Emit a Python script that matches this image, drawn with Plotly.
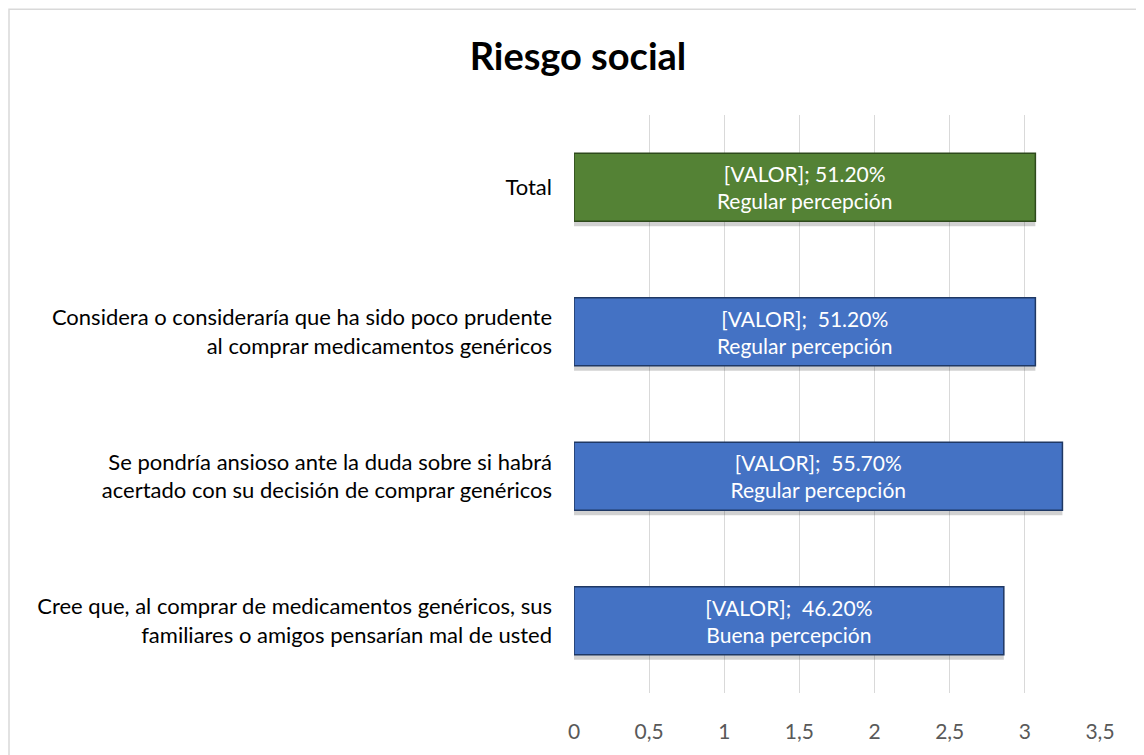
import plotly.graph_objects as go

categories = [
    "Cree que, al comprar de medicamentos genéricos, sus<br>familiares o amigos pensarían mal de usted",
    "Se pondría ansioso ante la duda sobre si habrá<br>acertado con su decisión de comprar genéricos",
    "Considera o consideraría que ha sido poco prudente<br>al comprar medicamentos genéricos",
    "Total",
]
values = [2.86, 3.25, 3.07, 3.07]
percents = ["46.20%", "55.70%", "51.20%", "51.20%"]
perceptions = ["Buena percepción", "Regular percepción", "Regular percepción", "Regular percepción"]
separators = [";  ", ";  ", ";  ", "; "]
bar_colors = ["#4472C4", "#4472C4", "#4472C4", "#548235"]
edge_colors = ["#1F3864", "#1F3864", "#1F3864", "#2E4A1C"]
x_ticks = [0, 0.5, 1, 1.5, 2, 2.5, 3, 3.5]
x_tick_labels = ["0", "0,5", "1", "1,5", "2", "2,5", "3", "3,5"]

labels = [f"[VALOR]{s}{p}<br>{q}" for s, p, q in zip(separators, percents, perceptions)]

FONT = "Lato"
BAR_W = 0.47

fig = go.Figure()
# soft drop shadow
fig.add_trace(go.Bar(
    y=categories, x=values, orientation="h", width=BAR_W,
    offset=-BAR_W / 2 - 0.035,
    marker=dict(color="rgba(0,0,0,0.18)", line=dict(width=0)),
    hoverinfo="skip",
))
fig.add_trace(go.Bar(
    y=categories,
    x=values,
    orientation="h",
    width=BAR_W,
    offset=-BAR_W / 2,
    marker=dict(color=bar_colors, line=dict(color=edge_colors, width=1.5)),
    text=labels,
    textposition="inside",
    insidetextanchor="middle",
    textangle=0,
    constraintext="none",
    textfont=dict(family=FONT, size=21, color="white"),
    hoverinfo="skip",
))

W, H = 1136, 747
L, R, T, B = 566, 44, 107, 60
pw, ph = W - L - R, H - T - B

fig.update_layout(
    width=W, height=H,
    margin=dict(l=L, r=R, t=T, b=B),
    paper_bgcolor="white",
    plot_bgcolor="white",
    showlegend=False,
    barmode="overlay",
    title=dict(text="<b>Riesgo social</b>", x=570 / W, xanchor="center",
               y=1 - 49 / H, yanchor="middle",
               font=dict(family=FONT, size=38, color="black")),
    xaxis=dict(range=[0, 3.5], tickvals=x_ticks, ticktext=x_tick_labels,
               showgrid=True, gridcolor="#D9D9D9", gridwidth=1,
               zeroline=False, showline=False, ticks="",
               ticklabelstandoff=24,
               tickfont=dict(family=FONT, size=21, color="#595959")),
    yaxis=dict(showgrid=False, zeroline=False, showline=False, ticks="",
               ticklabelstandoff=21,
               tickfont=dict(family=FONT, size=22, color="black")),
)

# outer chart border
x0 = (1 - L) / pw
x1 = (1131 - L) / pw
ytop = (H - B - 1) / ph
ybot = (H - B - 760) / ph
fig.add_shape(type="rect", xref="paper", yref="paper", x0=x0, x1=x1, y0=ybot, y1=ytop,
              line=dict(color="#D9D9D9", width=1.5), fillcolor="rgba(0,0,0,0)", layer="below")

fig.write_html("out.html")
